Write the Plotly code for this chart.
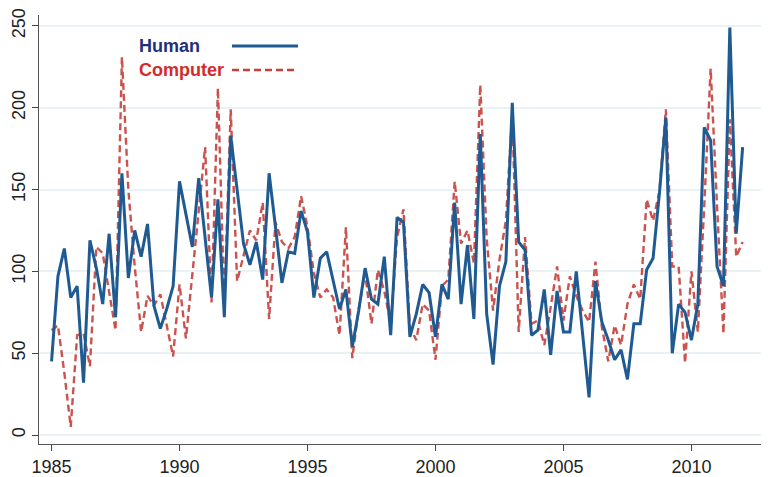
import plotly.graph_objects as go

start_year = 1985
human = [45, 97, 114, 84,
         91, 32, 119, 102,
         80, 123, 72, 160,
         96, 125, 109, 129,
         79, 65, 77, 91,
         155, 135, 115, 157,
         120, 84, 144, 72,
         183, 150, 117, 104,
         118, 95, 160, 127,
         93, 112, 111, 137,
         124, 84, 108, 112,
         95, 77, 89, 54,
         76, 102, 83, 80,
         109, 61, 133, 130,
         60, 74, 92, 87,
         60, 92, 83, 142,
         80, 116, 71, 184,
         74, 43, 91, 106,
         203, 118, 113, 61,
         64, 89, 49, 88,
         63, 63, 100, 63,
         23, 94, 69, 58,
         46, 52, 34, 68,
         68, 101, 108, 148,
         194, 50, 80, 75,
         58, 80, 188, 180,
         103, 91, 249, 123,
         176]
computer = [64, 67, 38, 5,
            61, 62, 42, 115,
            111, 88, 64, 231,
            150, 103, 63, 85,
            79, 86, 68, 48,
            92, 59, 98, 137,
            176, 81, 212, 80,
            199, 94, 110, 125,
            119, 142, 71, 130,
            118, 114, 121, 146,
            127, 99, 84, 89,
            84, 61, 127, 47,
            77, 99, 68, 101,
            88, 68, 121, 138,
            66, 58, 80, 76,
            46, 91, 95, 155,
            117, 125, 105, 214,
            120, 76, 107, 131,
            197, 63, 121, 68,
            70, 55, 78, 103,
            70, 97, 85, 76,
            69, 106, 66, 45,
            67, 55, 80, 92,
            83, 144, 131, 149,
            199, 103, 103, 44,
            100, 63, 140, 224,
            140, 62, 193, 109,
            118]
x_ticks = [1985, 1990, 1995, 2000, 2005, 2010]
y_ticks = [0, 50, 100, 150, 200, 250]
series_names = ["Human", "Computer"]

quarters = [start_year + i / 4 for i in range(len(human))]

BLUE = "#1f5b92"
RED = "#c6413c"
DASH = "7px,4px"

fig = go.Figure()
fig.add_trace(go.Scatter(x=quarters, y=computer, mode="lines", name=series_names[1],
                         line=dict(color=RED, width=2.4, dash=DASH), opacity=0.9))
fig.add_trace(go.Scatter(x=quarters, y=human, mode="lines", name=series_names[0],
                         line=dict(color=BLUE, width=3)))

# page body has an 8px margin; compensate so the plot lands where intended
OFF = 8
W, H = 769 - OFF, 477 - OFF
L, R, T, B = 39 - OFF, 0, 15 - OFF, 33
pw, ph = W - L - R, H - T - B

def px2paper(xp, yp):
    # xp, yp in page pixels
    return (xp - OFF - L) / pw, 1 - (yp - OFF - T) / ph

for name, color, yp, dash in [(series_names[0], "#1f3079", 46, "solid"),
                              (series_names[1], "#d22b2b", 70, DASH)]:
    xa, ya = px2paper(137, yp)
    fig.add_annotation(x=xa, y=ya, xref="paper", yref="paper", text="<b>%s</b>" % name,
                       showarrow=False, xanchor="left", yanchor="middle",
                       font=dict(family="Liberation Sans, Arial", size=18, color=color))
    x0, y0 = px2paper(232, yp)
    x1, _ = px2paper(298, yp)
    fig.add_shape(type="line", xref="paper", yref="paper", x0=x0, x1=x1, y0=y0, y1=y0,
                  line=dict(color=BLUE if dash == "solid" else RED,
                            width=3 if dash == "solid" else 2.4, dash=dash))

fig.update_layout(
    width=W, height=H,
    margin=dict(l=L, r=R, t=T, b=B, pad=0),
    paper_bgcolor="white", plot_bgcolor="white",
    showlegend=False,
    font=dict(family="Liberation Sans, Arial", size=18, color="#222"),
)
fig.update_xaxes(range=[1984.51, 2013.03], tickvals=x_ticks, ticks="outside", ticklen=6,
                 tickcolor="#444", showline=True, linecolor="#555", linewidth=1.2,
                 showgrid=False, zeroline=False, tickfont=dict(size=18), automargin=False)
fig.update_yaxes(range=[-5.5, 256.7], tickvals=y_ticks, ticks="outside", ticklen=6,
                 tickcolor="#444", showline=True, linecolor="#555", linewidth=1.2,
                 showgrid=True, gridcolor="#e9f2f5", gridwidth=1.5, zeroline=False,
                 tickangle=-90, tickfont=dict(size=18), automargin=False)

fig.write_html("out.html")
